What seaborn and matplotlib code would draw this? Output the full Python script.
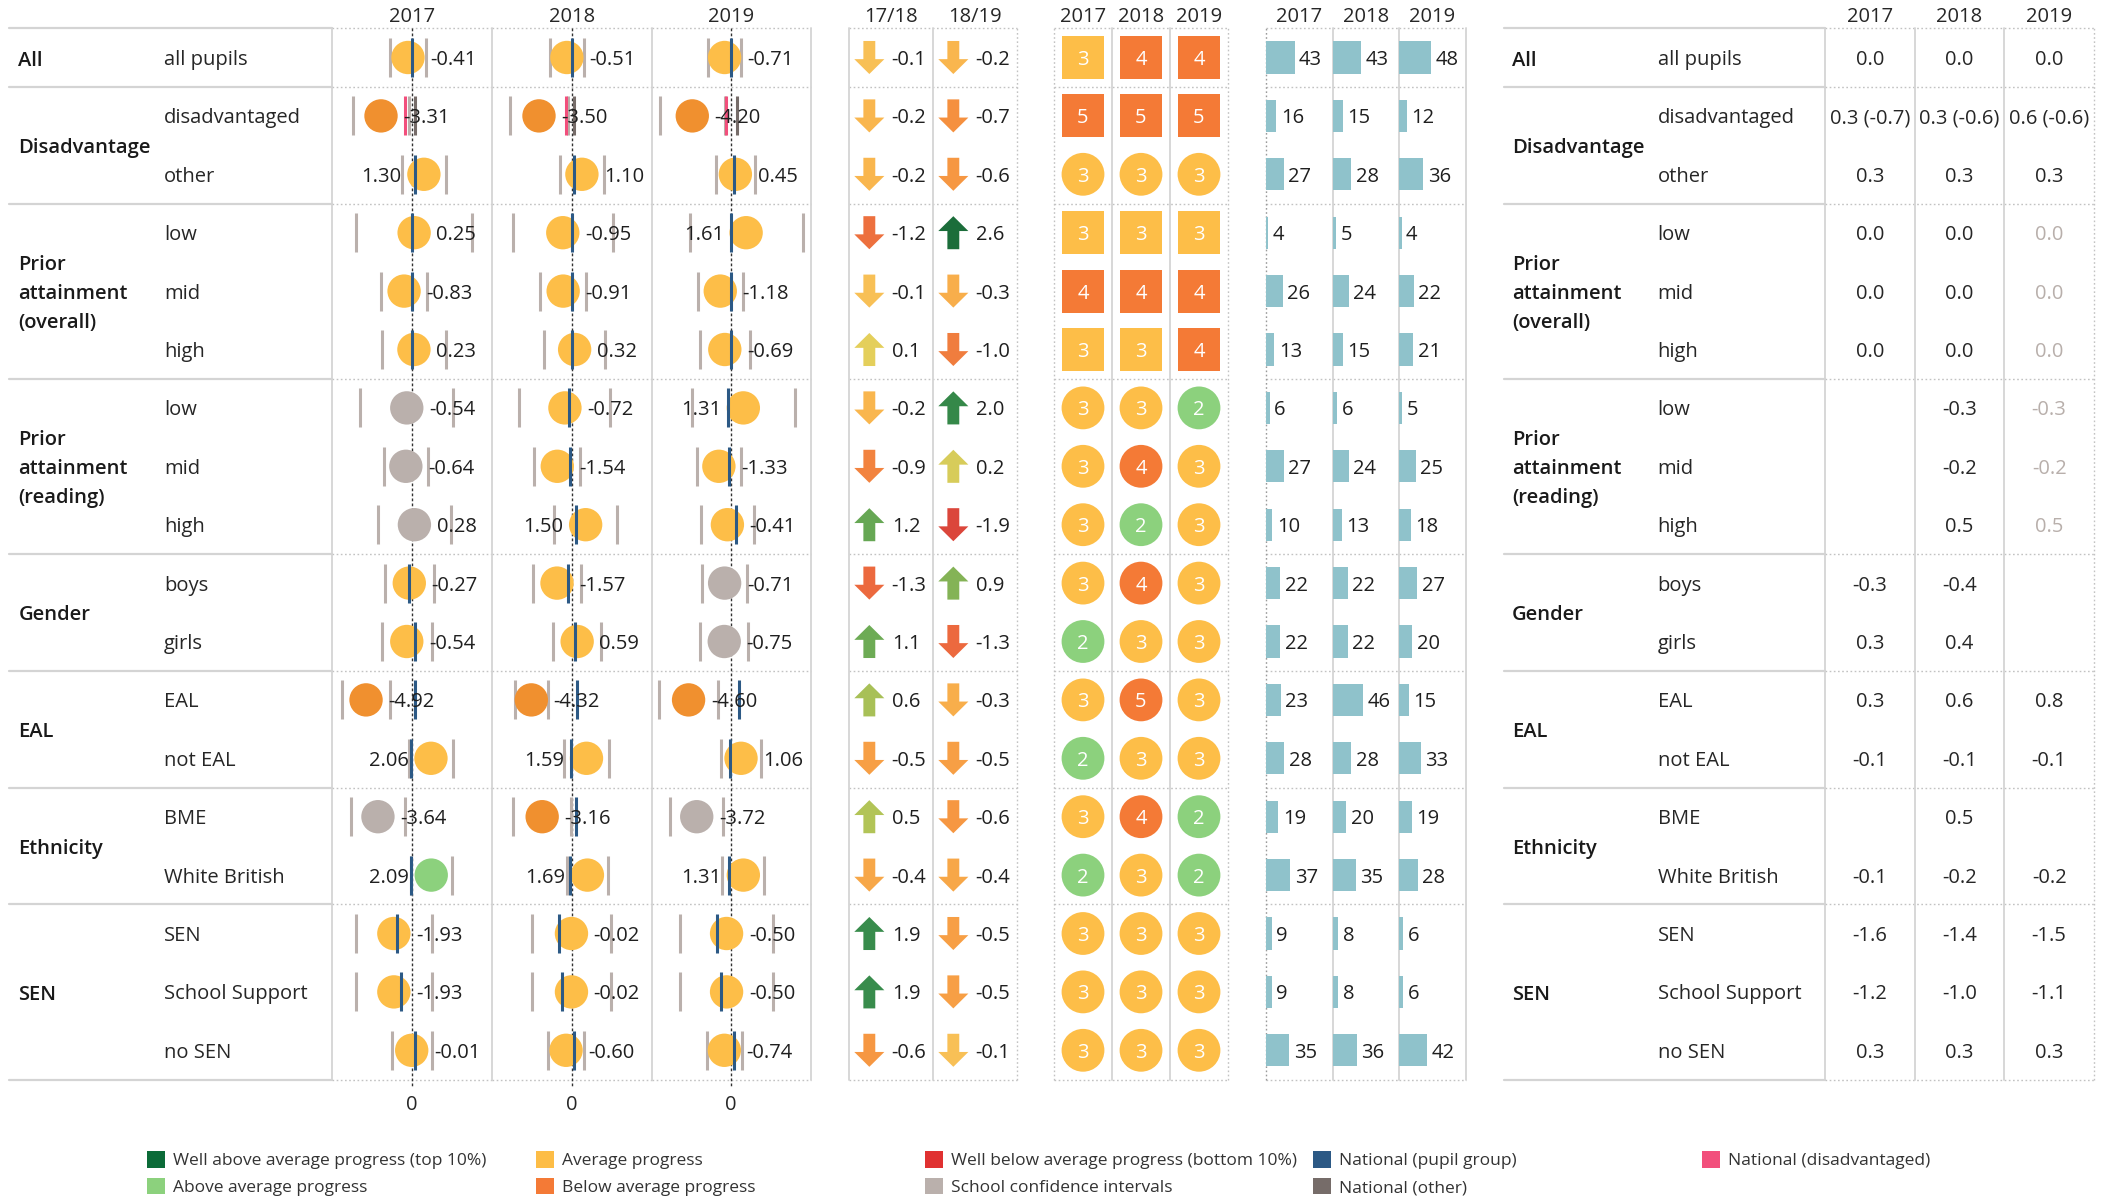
import numpy as np
import pandas as pd
import matplotlib
matplotlib.use("Agg")
import matplotlib.pyplot as plt
import seaborn as sns
from matplotlib.path import Path
from matplotlib.colors import LinearSegmentedColormap, Normalize
from matplotlib.patches import Patch

# ---------------- data ----------------
groups = ["All", "Disadvantage", "Prior\nattainment\n(overall)", "Prior\nattainment\n(reading)",
          "Gender", "EAL", "Ethnicity", "SEN"]
group_sizes = [1, 2, 3, 3, 2, 2, 2, 3]
subgroups = ["all pupils", "disadvantaged", "other", "low", "mid", "high", "low", "mid", "high",
             "boys", "girls", "EAL", "not EAL", "BME", "White British", "SEN", "School Support", "no SEN"]
years = ["2017", "2018", "2019"]
change_labels = ["17/18", "18/19"]

score_2017 = [-0.41, -3.31, 1.30, 0.25, -0.83, 0.23, -0.54, -0.64, 0.28, -0.27, -0.54, -4.92, 2.06, -3.64, 2.09, -1.93, -1.93, -0.01]
score_2018 = [-0.51, -3.50, 1.10, -0.95, -0.91, 0.32, -0.72, -1.54, 1.50, -1.57, 0.59, -4.32, 1.59, -3.16, 1.69, -0.02, -0.02, -0.60]
score_2019 = [-0.71, -4.20, 0.45, 1.61, -1.18, -0.69, 1.31, -1.33, -0.41, -0.71, -0.75, -4.60, 1.06, -3.72, 1.31, -0.50, -0.50, -0.74]

ci_2017 = [1.89, 3.03, 2.39, 6.27, 2.45, 3.45, 5.00, 2.39, 3.93, 2.64, 2.66, 2.60, 2.40, 2.90, 2.19, 4.07, 4.07, 2.14]
ci_2018 = [1.83, 3.07, 2.33, 5.35, 2.45, 3.26, 4.87, 2.47, 3.40, 2.60, 2.59, 1.75, 2.46, 3.10, 2.19, 4.27, 4.27, 1.97]
ci_2019 = [1.74, 3.50, 2.10, 6.10, 2.45, 2.70, 5.55, 2.39, 2.90, 2.40, 2.60, 3.18, 2.16, 2.87, 2.28, 5.00, 5.00, 1.89]

band_2017 = ["avg", "below", "avg", "avg", "avg", "avg", "ns", "ns", "ns", "avg", "avg", "below", "avg", "ns", "above", "avg", "avg", "avg"]
band_2018 = ["avg", "below", "avg", "avg", "avg", "avg", "avg", "avg", "avg", "avg", "avg", "below", "avg", "below", "avg", "avg", "avg", "avg"]
band_2019 = ["avg", "below", "avg", "avg", "avg", "avg", "avg", "avg", "avg", "ns", "ns", "below", "avg", "ns", "avg", "avg", "avg", "avg"]

natl_2017 = [0.0, None, 0.3, 0.0, 0.0, 0.0, None, None, None, -0.3, 0.3, 0.3, -0.1, None, -0.1, -1.6, -1.2, 0.3]
natl_2018 = [0.0, None, 0.3, 0.0, 0.0, 0.0, -0.3, -0.2, 0.5, -0.4, 0.4, 0.6, -0.1, 0.5, -0.2, -1.4, -1.0, 0.3]
natl_2019 = [0.0, None, 0.3, 0.0, 0.0, 0.0, -0.3, -0.2, 0.5, None, None, 0.8, -0.1, None, -0.2, -1.5, -1.1, 0.3]
natl_other_for_disadv = [0.3, 0.3, 0.6]
natl_disadv = [-0.7, -0.6, -0.6]
natl_2019_estimated = [False, False, False, True, True, True, True, True, True,
                       False, False, False, False, False, False, False, False, False]

change_1718 = [-0.1, -0.2, -0.2, -1.2, -0.1, 0.1, -0.2, -0.9, 1.2, -1.3, 1.1, 0.6, -0.5, 0.5, -0.4, 1.9, 1.9, -0.6]
change_1819 = [-0.2, -0.7, -0.6, 2.6, -0.3, -1.0, 2.0, 0.2, -1.9, 0.9, -1.3, -0.3, -0.5, -0.6, -0.4, -0.5, -0.5, -0.1]

rating_2017 = [3, 5, 3, 3, 4, 3, 3, 3, 3, 3, 2, 3, 2, 3, 2, 3, 3, 3]
rating_2018 = [4, 5, 3, 3, 4, 3, 3, 4, 2, 4, 3, 5, 3, 4, 3, 3, 3, 3]
rating_2019 = [4, 5, 3, 3, 4, 4, 2, 3, 3, 3, 3, 3, 3, 2, 2, 3, 3, 3]
headline_measure = [True, True, False, True, True, True, False, False, False,
                    False, False, False, False, False, False, False, False, False]

pupils_2017 = [43, 16, 27, 4, 26, 13, 6, 27, 10, 22, 22, 23, 28, 19, 37, 9, 9, 35]
pupils_2018 = [43, 15, 28, 5, 24, 15, 6, 24, 13, 22, 22, 46, 28, 20, 35, 8, 8, 36]
pupils_2019 = [48, 12, 36, 4, 22, 21, 5, 25, 18, 27, 20, 15, 33, 19, 28, 6, 6, 42]

legend_columns = [
    [("Well above average progress (top 10%)", "#0b6b38"), ("Above average progress", "#8cd17d")],
    [("Average progress", "#fdbd46"), ("Below average progress", "#f47a36")],
    [("Well below average progress (bottom 10%)", "#e03131"), ("School confidence intervals", "#bab0ac")],
    [("National (pupil group)", "#2c5985"), ("National (other)", "#766c69")],
    [("National (disadvantaged)", "#f24f7c")],
]

# ---------------- style ----------------
sns.set_theme(style="white")
plt.rcParams['font.family'] = ['Open Sans', 'DejaVu Sans']

W, H = 2116, 1197
TOP, BOT = 28.3, 1079.5
FS = 14.5
TXT = '#262626'
SOLID = '#d4d4d4'
DOTC = '#c2c2c2'
DOTTED = (0, (1.2, 1.8))
dot_pal = {"avg": "#fdbe48", "below": "#f0902f", "above": "#8cd17d", "ns": "#bab0ac"}
rating_pal = {1: "#0b6b38", 2: "#8cd17d", 3: "#fdbe48", 4: "#f47a36", 5: "#f47a36"}
CI_C = "#bab0ac"
NAT_BLUE = "#2c5985"
NAT_OTHER = "#766c69"
NAT_DIS = "#f24f7c"
BAR_C = "#8fc2cb"

arrow_cmap = LinearSegmentedColormap.from_list("chg", [
    (0.0, "#d8413a"), (0.7 / 4.6, "#ec6a3e"), (1.3 / 4.6, "#f5903f"), (1.8 / 4.6, "#f9b64e"),
    (1.95 / 4.6, "#f8c65b"), (2.1 / 4.6, "#e3cf5b"), (2.5 / 4.6, "#b3c457"), (3.1 / 4.6, "#6dab55"),
    (3.9 / 4.6, "#398d4c"), (1.0, "#1b6d3a")])
arrow_norm = Normalize(-2.0, 2.6)

n = len(subgroups)
rows = np.arange(n)
starts = np.concatenate([[0], np.cumsum(group_sizes)[:-1]])
bounds = np.concatenate([[0], np.cumsum(group_sizes)]) - 0.5

fig = plt.figure(figsize=(W / 100, H / 100), dpi=100)
fig.patch.set_facecolor('white')


def clean(ax, xlim):
    ax.set_xlim(*xlim)
    ax.set_ylim(n - 0.5, -0.5)
    for s in ax.spines.values():
        s.set_visible(False)
    ax.set_xticks([])
    ax.set_yticks([])
    ax.set_xlabel('')
    ax.set_ylabel('')
    ax.patch.set_alpha(0)
    ax.grid(False)


def make_ax(x0, x1, xlim):
    ax = fig.add_axes([x0 / W, 1 - BOT / H, (x1 - x0) / W, (BOT - TOP) / H])
    clean(ax, xlim)
    return ax


def hlines(ax, style):
    for b in bounds:
        if style == 'solid':
            ax.axhline(b, color=SOLID, lw=1.6, zorder=0, clip_on=False)
        else:
            ax.axhline(b, color=DOTC, lw=1.0, ls=DOTTED, zorder=0, clip_on=False)


def vborder(ax, xf, style, color=None):
    if style == 'solid':
        kw = dict(color=color or SOLID, lw=1.3)
    else:
        kw = dict(color=color or DOTC, lw=1.0, ls=DOTTED)
    ax.plot([xf, xf], [0, 1], transform=ax.transAxes, clip_on=False, zorder=0, **kw)


def header(ax, x, s):
    ax.annotate(s, xy=(x, -0.5), xytext=(0, 4.5), textcoords='offset points', ha='center',
                va='baseline', fontsize=FS, color=TXT, annotation_clip=False)


def label_panel(x0, x1, gx, sx):
    ax = make_ax(x0, x1, (0, x1 - x0))
    hlines(ax, 'solid')
    for g, st, sz in zip(groups, starts, group_sizes):
        ax.annotate(g, xy=(gx, st + (sz - 1) / 2), xytext=(0, -2.3), textcoords='offset points',
                    fontweight='semibold', fontsize=FS, va='center', ha='left',
                    color='#1a1a1a', linespacing=1.6)
    for i, s in enumerate(subgroups):
        ax.text(sx, i, s, fontsize=FS, va='center_baseline', ha='left', color=TXT)
    return ax


# ---- left labels ----
label_panel(9, 332, 9.3, 155)

# ---- dot plots ----
dot_x = [332, 491.6, 651.7, 810.7]
scores = [score_2017, score_2018, score_2019]
cis = [ci_2017, ci_2018, ci_2019]
bands = [band_2017, band_2018, band_2019]
natls = [natl_2017, natl_2018, natl_2019]
XL = 8.58
HALF = 0.335
for k in range(3):
    ax = make_ax(dot_x[k], dot_x[k + 1], (-XL, XL))
    hlines(ax, 'dotted')
    vborder(ax, 0, 'solid')
    if k == 2:
        vborder(ax, 1, 'solid')
    df = pd.DataFrame({"row": rows, "score": scores[k], "band": bands[k], "ci": cis[k]})
    ax.plot([0, 0], [-0.5, n - 0.5 + 0.12], ls=(0, (2, 1.6)), color='#333333', lw=1.0,
            zorder=1, clip_on=False)
    ax.vlines(df.score - df.ci, df.row - HALF, df.row + HALF, color=CI_C, lw=2.2, zorder=2)
    ax.vlines(df.score + df.ci, df.row - HALF, df.row + HALF, color=CI_C, lw=2.2, zorder=2)
    sns.scatterplot(data=df, x="score", y="row", hue="band", palette=dot_pal, s=577,
                    linewidth=0, legend=False, ax=ax, zorder=3)
    nat = pd.DataFrame({"row": rows, "natl": [np.nan if v is None else v for v in natls[k]]}).dropna()
    ax.vlines(nat.natl, nat.row - HALF, nat.row + HALF, color=NAT_BLUE, lw=2.2, zorder=4)
    ax.vlines([natl_other_for_disadv[k]], [1 - HALF], [1 + HALF], color=NAT_OTHER, lw=2.2, zorder=4)
    ax.vlines([natl_disadv[k]], [1 - HALF], [1 + HALF], color=NAT_DIS, lw=2.2, zorder=4)
    for i, v in enumerate(scores[k]):
        left = v >= 1.25
        ax.annotate(f"{v:.2f}", xy=(v, i), xytext=(-16 if left else 16, 0),
                    textcoords='offset points', ha='right' if left else 'left',
                    va='center_baseline', fontsize=FS, color='#1f1f1f', zorder=5)
    clean(ax, (-XL, XL))
    header(ax, 0, years[k])
    ax.annotate("0", xy=(0, n - 0.5), xytext=(0, -11), textcoords='offset points',
                ha='center', va='top', fontsize=FS, color=TXT, annotation_clip=False)

# ---- change arrows ----
down = Path([(-0.18, 0.5), (0.18, 0.5), (0.18, -0.05), (0.455, -0.05), (0.0, -0.5),
             (-0.455, -0.05), (-0.18, -0.05), (-0.18, 0.5)],
            [Path.MOVETO] + [Path.LINETO] * 6 + [Path.CLOSEPOLY])
up = Path([(x, -y) for x, y in down.vertices], down.codes)
ax = make_ax(849, 1017, (-0.5, 1.5))
hlines(ax, 'dotted')
vborder(ax, 0, 'solid')
vborder(ax, 0.5, 'solid')
vborder(ax, 1, 'dotted')
for k, vals in enumerate([change_1718, change_1819]):
    vals = np.array(vals)
    for mask, mk in [(vals > 0, up), (vals <= 0, down)]:
        ax.scatter(np.full(mask.sum(), k - 0.258), rows[mask], marker=mk, s=566,
                   c=arrow_cmap(arrow_norm(vals[mask])), linewidths=0, zorder=3)
    for i, v in enumerate(vals):
        ax.text(k + 0.008, i, f"{v:.1f}", ha='left', va='center_baseline', fontsize=FS,
                color='#1f1f1f')
    header(ax, k, change_labels[k])
clean(ax, (-0.5, 1.5))

# ---- ratings ----
ax = make_ax(1054, 1228, (-0.5, 2.5))
hlines(ax, 'dotted')
vborder(ax, 0, 'dotted')
vborder(ax, 1 / 3, 'solid')
vborder(ax, 2 / 3, 'solid')
vborder(ax, 1, 'dotted')
hm = np.array(headline_measure)
for k, rt in enumerate([rating_2017, rating_2018, rating_2019]):
    rt = np.array(rt)
    cols = [rating_pal[r] for r in rt]
    for mask, mk in [(hm, 's'), (~hm, 'o')]:
        ax.scatter(np.full(mask.sum(), k), rows[mask], marker=mk, s=950,
                   c=[c for c, m in zip(cols, mask) if m], linewidths=0, zorder=3)
    for i, r in enumerate(rt):
        ax.text(k, i, str(r), ha='center', va='center_baseline', fontsize=FS, color='white', zorder=4)
    header(ax, k, years[k])
clean(ax, (-0.5, 2.5))

# ---- pupil numbers ----
bar_x = [1265.5, 1333, 1399, 1466]
for k, pv in enumerate([pupils_2017, pupils_2018, pupils_2019]):
    ax = make_ax(bar_x[k], bar_x[k + 1], (0, 100))
    sns.barplot(x=pv, y=rows, orient='h', color=BAR_C, saturation=1, width=0.55,
                linewidth=0, ax=ax, zorder=2)
    clean(ax, (0, 100))
    hlines(ax, 'dotted')
    if k == 0:
        vborder(ax, 0, 'dotted', color='#9a9a9a')
    else:
        vborder(ax, 0, 'solid')
    if k == 2:
        vborder(ax, 1, 'solid')
    for i, v in enumerate(pv):
        ax.annotate(str(v), xy=(v, i), xytext=(3.2, 0), textcoords='offset points', ha='left',
                    va='center_baseline', fontsize=FS, color='#1f1f1f')
    header(ax, 50, years[k])

# ---- right table ----
label_panel(1504, 1825, 8, 153.7)
ax = make_ax(1825, 2094, (-0.5, 2.5))
hlines(ax, 'dotted')
vborder(ax, 0, 'solid')
vborder(ax, 1 / 3, 'solid')
vborder(ax, 2 / 3, 'solid')
vborder(ax, 1, 'dotted')
for k in range(3):
    for i, v in enumerate(natls[k]):
        if i == 1:
            s = f"{natl_other_for_disadv[k]:.1f} ({natl_disadv[k]:.1f})"
        elif v is None:
            continue
        else:
            s = f"{v:.1f}"
        col = '#b8afab' if (k == 2 and natl_2019_estimated[i]) else TXT
        ax.text(k, i, s, ha='center', va='center_baseline', fontsize=FS, color=col)
    header(ax, k, years[k])

# ---- legend ----
legend_x = [147, 536, 925, 1313, 1702]
for lx, items in zip(legend_x, legend_columns):
    handles = [Patch(facecolor=c, edgecolor='none') for _, c in items]
    fig.legend(handles, [t for t, _ in items], loc='upper left',
               bbox_to_anchor=(lx / W, 1 - 1151 / H), frameon=False, fontsize=12.5,
               handlelength=1.06, handleheight=1.09, handletextpad=0.45,
               labelspacing=0.5, borderpad=0, borderaxespad=0, labelcolor='#333333')

fig.savefig("out.png", dpi=100)
